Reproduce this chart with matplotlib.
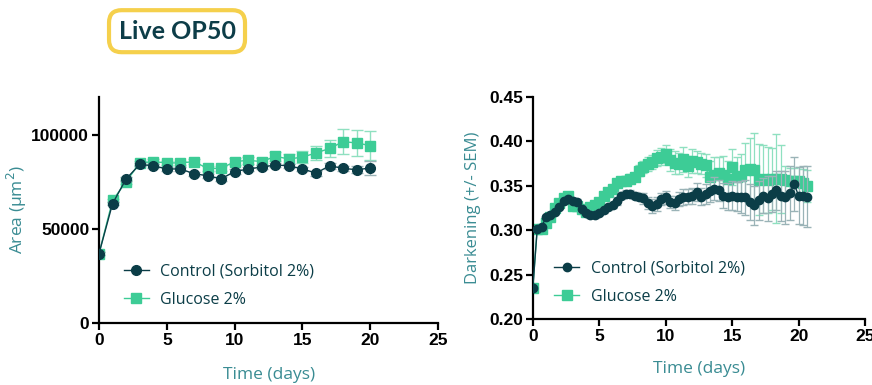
import matplotlib
matplotlib.use('Agg')
import matplotlib.pyplot as plt
from matplotlib.ticker import FormatStrFormatter

# ---- left panel: area over time (one point per day)
area_days = [0, 1, 2, 3, 4, 5, 6, 7, 8, 9, 10, 11, 12, 13, 14, 15, 16, 17, 18, 19, 20]
area_control = [36800, 63400, 76500, 84200, 83500, 81800, 81800, 79300, 78200, 76600, 80400,
                81800, 82800, 83900, 83500, 81800, 79600, 83500, 82100, 81400, 82300]
area_control_err = [800, 1000, 1200, 1000, 1000, 1000, 1000, 1000, 1000, 1000, 1200,
                    1200, 1200, 1200, 1200, 1300, 1300, 1500, 1500, 1800, 3500]
area_glucose = [36800, 65100, 75000, 85000, 85700, 85000, 85000, 85700, 82100, 82100, 85700,
                86400, 85700, 88500, 87100, 88100, 90300, 92700, 96300, 95600, 94200]
area_glucose_err = [800, 1000, 1200, 1000, 1200, 1200, 1200, 1200, 1500, 1500, 1800,
                    2000, 1800, 2500, 2800, 3000, 3500, 4500, 6500, 7000, 7500]

# ---- right panel: darkening, sampled every ~8 h
dark_days = [0, 0.33, 0.67, 1, 1.33, 1.67, 2, 2.33, 2.67,
             3, 3.33, 3.67, 4, 4.33, 4.67, 5, 5.33, 5.67, 6,
             6.33, 6.67, 7, 7.33, 7.67, 8,
             8.33, 8.67, 9, 9.33, 9.67, 10,
             10.33, 10.67, 11, 11.33, 11.67, 12, 12.33, 12.67, 13,
             13.33, 13.67, 14, 14.33, 14.67, 15, 15.33, 15.67,
             16, 16.33, 16.67, 17, 17.33, 17.67, 18, 18.33, 18.67,
             19, 19.33, 19.67, 20, 20.33, 20.67]
dark_control = [0.235, 0.301, 0.304, 0.315, 0.317, 0.321, 0.326, 0.333, 0.335,
                0.333, 0.332, 0.324, 0.320, 0.317, 0.317, 0.320, 0.323, 0.326, 0.328,
                0.333, 0.339, 0.341, 0.341, 0.339, 0.338,
                0.336, 0.331, 0.327, 0.330, 0.335, 0.337,
                0.332, 0.331, 0.335, 0.338, 0.338, 0.339, 0.343, 0.338, 0.341,
                0.344, 0.347, 0.345, 0.339, 0.338, 0.339, 0.338, 0.338,
                0.337, 0.332, 0.328, 0.334, 0.339, 0.336, 0.341, 0.345, 0.339,
                0.337, 0.342, 0.352, 0.339, 0.339, 0.338]
dark_control_err = [0.002, 0.002, 0.002, 0.002, 0.002, 0.002, 0.002, 0.002, 0.002,
                    0.003, 0.003, 0.003, 0.003, 0.003, 0.003, 0.003, 0.003, 0.003, 0.003,
                    0.004, 0.004, 0.004, 0.004, 0.004, 0.004,
                    0.006, 0.007, 0.008, 0.008, 0.007, 0.007,
                    0.007, 0.008, 0.008, 0.009, 0.008, 0.009, 0.010, 0.010, 0.011,
                    0.012, 0.013, 0.012, 0.014, 0.015, 0.016, 0.016, 0.018,
                    0.020, 0.020, 0.022, 0.022, 0.020, 0.025, 0.020, 0.022, 0.028,
                    0.030, 0.030, 0.030, 0.032, 0.033, 0.034]
dark_glucose = [0.235, 0.301, 0.302, 0.308, 0.315, 0.325, 0.331, 0.336, 0.339,
                0.327, 0.327, 0.324, 0.321, 0.326, 0.329, 0.332, 0.339, 0.343, 0.347,
                0.353, 0.355, 0.356, 0.358, 0.360, 0.367,
                0.371, 0.375, 0.377, 0.381, 0.383, 0.386,
                0.379, 0.376, 0.375, 0.380, 0.372, 0.378, 0.377, 0.375, 0.373,
                0.360, 0.362, 0.364, 0.362, 0.358, 0.371, 0.360, 0.361,
                0.368, 0.369, 0.368, 0.357, 0.358, 0.357, 0.358, 0.358, 0.358,
                0.357, 0.356, 0.355, 0.355, 0.353, 0.350]
dark_glucose_err = [0.002, 0.003, 0.003, 0.003, 0.003, 0.003, 0.003, 0.003, 0.003,
                    0.003, 0.003, 0.003, 0.003, 0.003, 0.003, 0.003, 0.003, 0.003, 0.004,
                    0.004, 0.004, 0.005, 0.005, 0.005, 0.006,
                    0.007, 0.008, 0.008, 0.009, 0.010, 0.010,
                    0.012, 0.013, 0.012, 0.014, 0.012, 0.013, 0.012, 0.012, 0.013,
                    0.018, 0.020, 0.018, 0.022, 0.020, 0.020, 0.022, 0.025,
                    0.030, 0.035, 0.042, 0.040, 0.038, 0.037, 0.035, 0.050, 0.038,
                    0.015, 0.014, 0.015, 0.016, 0.016, 0.018]

labels = ['Control (Sorbitol 2%)', 'Glucose 2%']
dark_teal = '#0b3d47'
green = '#3dcc96'
label_col = '#3a8c93'


def style_axis(ax):
    for side in ['top', 'right']:
        ax.spines[side].set_visible(False)
    for side in ['left', 'bottom']:
        ax.spines[side].set_linewidth(1.6)
        ax.spines[side].set_color('black')
    ax.tick_params(width=1.6, length=5, labelsize=12.5, pad=2)
    for t in ax.get_xticklabels() + ax.get_yticklabels():
        t.set_fontweight('bold')
        t.set_family('Liberation Sans')
    ax.set_xlim(0, 25)
    ax.set_xticks([0, 5, 10, 15, 20, 25])


def add_legend(ax, anchor, ctrl, gluc):
    # markers + line only, no error bars in the key
    leg = ax.legend([ctrl[0], gluc[0]], labels, loc='lower left', bbox_to_anchor=anchor,
                    frameon=False, handlelength=1.6, labelspacing=0.75, handletextpad=0.7,
                    prop={'family': 'Open Sans', 'size': 11.5})
    for t in leg.get_texts():
        t.set_color(dark_teal)
    return leg


fig = plt.figure(figsize=(8.72, 3.85), dpi=100)

# left
ax1 = fig.add_axes([0.1135, 0.161, 0.389, 0.587])
g1 = ax1.errorbar(area_days, area_glucose, yerr=area_glucose_err, color=green, marker='s', ms=6.5,
                  lw=1, elinewidth=1, capsize=4, ecolor='#8fe0c0', zorder=2)
c1 = ax1.errorbar(area_days, area_control, yerr=area_control_err, color=dark_teal, marker='o', ms=7,
                  lw=1, elinewidth=1, capsize=4, ecolor='#9ab3b7', zorder=3)
ax1.set_ylim(0, 120000)
ax1.set_yticks([0, 50000, 100000])
ax1.set_ylabel('Area (µm$^2$)', color=label_col, fontsize=12.5, family='Open Sans', labelpad=2)
style_axis(ax1)
ax1.set_xlabel('Time (days)', color=label_col, fontsize=12.5, family='Open Sans', labelpad=14)
add_legend(ax1, (0.03, 0.005), c1, g1)

# right
ax2 = fig.add_axes([0.611, 0.171, 0.381, 0.577])
g2 = ax2.errorbar(dark_days, dark_glucose, yerr=dark_glucose_err, color=green, marker='s', ms=6.5,
                  lw=1, elinewidth=0.9, capsize=3, ecolor='#8fe0c0', zorder=2)
c2 = ax2.errorbar(dark_days, dark_control, yerr=dark_control_err, color=dark_teal, marker='o', ms=6,
                  lw=1, elinewidth=0.9, capsize=3, ecolor='#9ab3b7', zorder=3)
ax2.set_ylim(0.20, 0.45)
ax2.set_yticks([0.20, 0.25, 0.30, 0.35, 0.40, 0.45])
ax2.yaxis.set_major_formatter(FormatStrFormatter('%.2f'))
ax2.set_ylabel('Darkening (+/- SEM)', color=label_col, fontsize=12, family='Open Sans', labelpad=6)
style_axis(ax2)
ax2.set_xlabel('Time (days)', color=label_col, fontsize=12.5, family='Open Sans', labelpad=12)
add_legend(ax2, (0.02, 0.0), c2, g2)

# title badge
fig.text(0.203, 0.919, 'Live OP50', ha='center', va='center', fontsize=18, fontweight='bold',
         family='Lato', color='#0d3d48',
         bbox=dict(boxstyle='round,pad=0.38,rounding_size=0.5', fc='white', ec='#f5d04c', lw=3))

fig.savefig('out.png', dpi=100)
